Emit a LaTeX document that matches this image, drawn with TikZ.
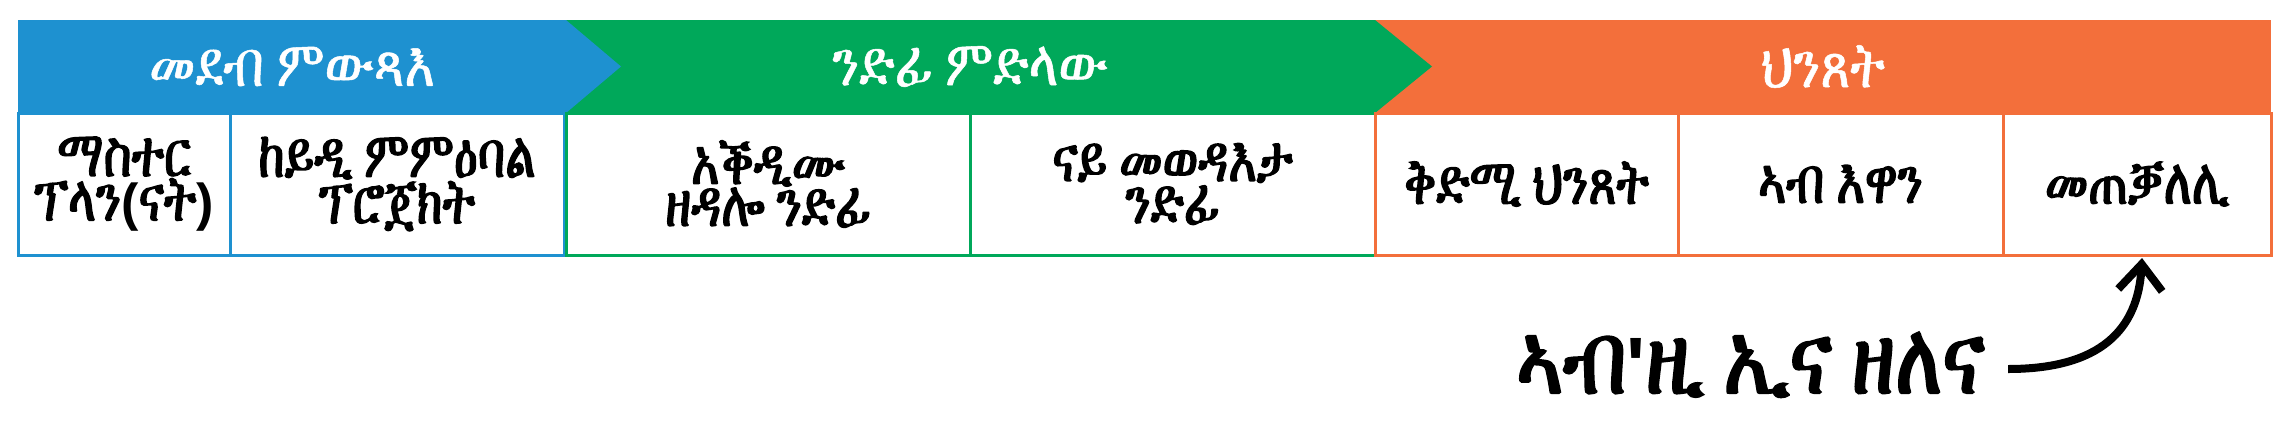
\documentclass[tikz,border=0pt]{standalone}
\usepackage{fontspec}
\usetikzlibrary{arrows.meta}
\IfFontExistsTF{FreeSerif}{\def\ethname{FreeSerif}}{\def\ethname{Abyssinica SIL}}
\newfontfamily\ethh[FakeBold=0.8,FakeStretch=0.8]{\ethname}
\newfontfamily\ethb[FakeBold=2.2,FakeStretch=0.75]{\ethname}
\newfontfamily\ethbig[FakeBold=2.5,FakeStretch=0.8]{\ethname}
\newfontfamily\lat[Ligatures=TeXOff]{Liberation Sans}
\definecolor{cblue}{HTML}{1E91D0}
\definecolor{cgreen}{HTML}{00A85A}
\definecolor{corange}{HTML}{F36F3B}
\tikzset{
  cell/.style={draw=#1, line width=1.5pt, inner sep=0pt, outer sep=0pt, align=center,
    minimum height=71pt, text=black, font=\ethb\fontsize{32}{21}\selectfont},
  head/.style={text=white, inner sep=0pt, font=\ethh\fontsize{32}{20}\selectfont},
  bigtext/.style={text=black, inner sep=0pt, font=\ethbig\fontsize{50}{52}\selectfont},
  pointer/.style={line width=4pt, -{Straight Barb[length=13pt,width=22pt]}}
}
\begin{document}
\begin{tikzpicture}[x=0.5pt,y=-0.5pt]
\useasboundingbox (0,0) rectangle (2284,424);
\fill[white] (0,0) rectangle (2284,424);
% header bands
\fill[corange] (1375,20) rectangle (2271,113);
\fill[cgreen] (566,20) -- (1375,20) -- (1432,66.5) -- (1375,113) -- (566,113) -- cycle;
\fill[cblue] (18,20) -- (566,20) -- (621,66.5) -- (566,113) -- (18,113) -- cycle;
\node[head] (h1) at (292,66.5) {መደብ ምውጻእ};
\node[head] (h2) at (970,66.5) {ንድፊ ምድላው};
\node[head] (h3) at (1823,66.5) {ህንጸት};
% cells
\node[cell=cblue, minimum width=106pt] (c1) at (124,184) {ማስተር\\ፕላን{\lat\bfseries\fontsize{26}{21}\selectfont(}ናት{\lat\bfseries\fontsize{26}{21}\selectfont)}};
\node[cell=cblue, minimum width=167pt] (c2) at (397,184) {ከይዲ ምምዕባል\\ፕሮጀክት};
\node[cell=cgreen, minimum width=202pt] (c3) at (768,184) {አቕዲሙ\\ዘዳሎ ንድፊ};
\node[cell=cgreen, minimum width=202.5pt] (c4) at (1172.5,184) {ናይ መወዳእታ\\ንድፊ};
\node[cell=corange, minimum width=151.5pt] (c5) at (1526.5,184) {ቅድሚ ህንጸት};
\node[cell=corange, minimum width=162.5pt] (c6) at (1840.5,184) {ኣብ እዋን};
\node[cell=corange, minimum width=134pt] (c7) at (2137,184) {መጠቓለሊ};
% bottom label and arrow
\node[bigtext, anchor=base east] (lbl) at (1985,393) {ኣብ{\lat\bfseries\fontsize{40}{40}\selectfont'}ዚ ኢና ዘለና};
\coordinate (tail) at (2008,369);
\coordinate (tip) at (2142,258);
\draw[pointer] (tail) .. controls (2100,369) and (2138,330) .. (tip);
\end{tikzpicture}
\end{document}
